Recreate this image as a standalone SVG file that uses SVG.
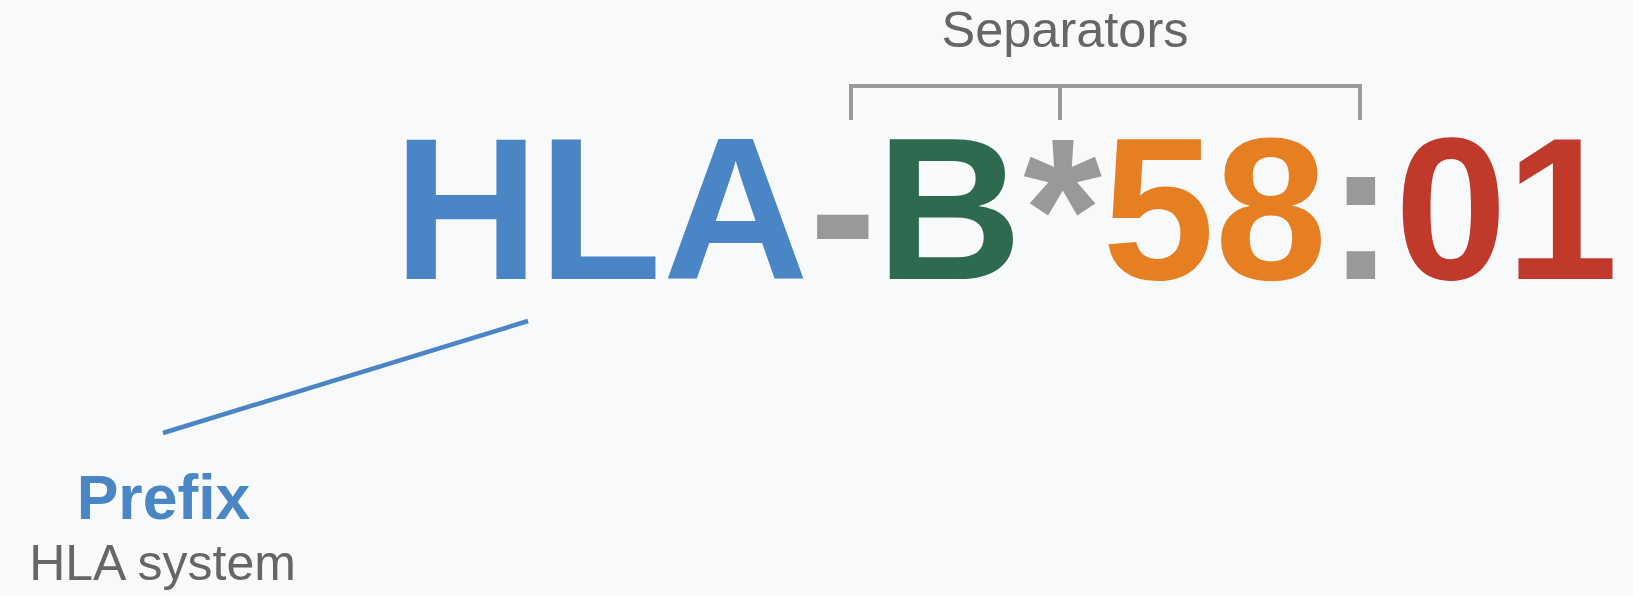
<svg xmlns="http://www.w3.org/2000/svg" width="1633" height="596" viewBox="0 0 1633 596">
<style>
.big{font-family:"Liberation Sans",Arial,sans-serif;font-weight:700;font-size:202px;text-anchor:middle}
.blue{fill:#4a86c6}
.green{fill:#2d6a4f}
.orange{fill:#e67e22}
.red{fill:#c0392b}
.sep{fill:#999999}
.lbl{font-family:"Liberation Sans",Arial,sans-serif;fill:#666666;text-anchor:middle}
.bold{font-family:"Liberation Sans",Arial,sans-serif;font-weight:700;fill:#4a86c6;text-anchor:middle}
</style>
<rect x="0" y="0" width="1633" height="596" fill="#f8f9fa"/>
<g id="connectors">
<line x1="163" y1="433" x2="528" y2="321" stroke="#4a86c6" stroke-width="4.5"/>
<path d="M851,120 V86 H1360 V120 M1060,86 V120" fill="none" stroke="#999999" stroke-width="4"/>
</g>
<g id="prefix">
<text class="big blue" x="466.2 600 735.8" y="279">HLA</text>
</g>
<g id="separator-hyphen"><text class="big sep" x="842.8" y="279">-</text></g>
<g id="gene"><text class="big green" x="949.2" y="279">B</text></g>
<g id="separator-star"><text class="big sep" x="1062.5" y="279">*</text></g>
<g id="allele-group"><text class="big orange" x="1158.5 1271" y="279">58</text></g>
<g id="separator-colon"><text class="big sep" x="1361" y="279">:</text></g>
<g id="protein"><text class="big red" x="1451 1562" y="279">01</text></g>
<g id="separators-label"><text class="lbl" x="1065" y="46.5" font-size="50.5">Separators</text></g>
<g id="prefix-label">
<text class="bold" x="163.5" y="518.5" font-size="62.5">Prefix</text>
<text class="lbl" x="162.5" y="579.5" font-size="50">HLA system</text>
</g>
</svg>
